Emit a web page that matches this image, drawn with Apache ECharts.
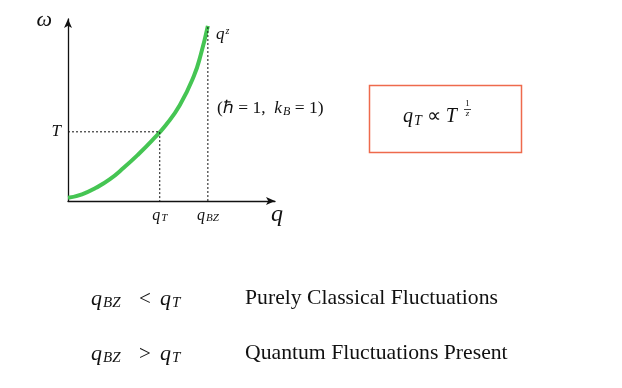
<!DOCTYPE html>
<html>
<head>
<meta charset="utf-8">
<script src="https://cdn.jsdelivr.net/npm/echarts@6/dist/echarts.min.js"></script>
<style>
html, body { margin: 0; background: #fff; }
#chart { width: 622px; height: 388px; }
</style>
</head>
<body>
<div id="chart"></div>
<script>
// dispersion curve omega(q)
var curveQ = [0, 0.1, 0.2, 0.3, 0.4, 0.5, 0.6, 0.7, 0.8, 0.9, 0.95, 1.0];
var curveW = [0.018, 0.038, 0.075, 0.124, 0.19, 0.263, 0.343, 0.432, 0.545, 0.71, 0.834, 0.995];
var qT = 0.656, qBZ = 1.0, tempT = 0.393, wBZ = 1.0;
var xTicks = [qT, qBZ];
var xTickLabels = ['{i|q}{s|T}', '{i|q}{s|BZ}'];
var yTicks = [tempT];
var yTickLabels = ['{i|T}'];
var rowSign = ['<', '>'];
var rowText = ['Purely Classical Fluctuations', 'Quantum Fluctuations Present'];

var serif = 'Liberation Serif';
var ink = '#111';

function st(size, italic, extra) {
    var o = { fontFamily: serif, fontSize: size, fontStyle: italic ? 'italic' : 'normal', color: ink, fill: ink };
    for (var k in extra || {}) o[k] = extra[k];
    return o;
}
function rich(size, subSize) {
    subSize = subSize || Math.round(size * 0.7);
    return {
        i: st(size, true),
        r: st(size, false),
        s: st(subSize, true, { padding: [Math.round(size * 0.4), 0, 0, 1] }),
        sup: st(Math.round(size * 0.6), true, { padding: [0, 0, Math.round(size * 0.45), 1] })
    };
}
function nearest(arr, v) {
    var best = 0;
    for (var i = 1; i < arr.length; i++) if (Math.abs(arr[i] - v) < Math.abs(arr[best] - v)) best = i;
    return best;
}

var chart = echarts.init(document.getElementById('chart'));

var graphic = [
    { type: 'text', x: 216, y: 35, style: { text: '{i|q}{sup|z}', rich: rich(17), verticalAlign: 'middle' } },
    { type: 'text', x: 217, y: 108, style: { text: '{r|(ℏ = 1,  }{i|k}{s|B}{r| = 1)}', rich: rich(17.5), verticalAlign: 'middle' } },
    { type: 'rect', shape: { x: 369.5, y: 85.5, width: 152, height: 67 },
      style: { fill: '#fff', stroke: '#ee6a4c', lineWidth: 1.5 }, z: 1 },
    { type: 'text', x: 403, y: 117, style: { text: '{i|q}{s|T}{r| ∝ }{i|T}', rich: rich(20), verticalAlign: 'middle' }, z: 2 },
    { type: 'text', x: 467.5, y: 104, style: { text: '1', font: '9px ' + serif, fill: ink, align: 'center', verticalAlign: 'middle' }, z: 2 },
    { type: 'line', shape: { x1: 464, y1: 109.5, x2: 471, y2: 109.5 }, style: { stroke: ink, lineWidth: 0.8 }, z: 2 },
    { type: 'text', x: 467.5, y: 114, style: { text: 'z', font: 'italic 9px ' + serif, fill: ink, align: 'center', verticalAlign: 'middle' }, z: 2 }
];
var rowY = [298, 353];
for (var r = 0; r < rowText.length; r++) {
    graphic.push({ type: 'text', x: 91, y: rowY[r] + 1, style: { text: '{i|q}{s|BZ}', rich: rich(22, 15), verticalAlign: 'middle' } });
    graphic.push({ type: 'text', x: 145, y: rowY[r] + 1, style: { text: rowSign[r], font: '21px ' + serif, fill: ink, align: 'center', verticalAlign: 'middle' } });
    graphic.push({ type: 'text', x: 160, y: rowY[r] + 1, style: { text: '{i|q}{s|T}', rich: rich(22, 15), verticalAlign: 'middle' } });
    graphic.push({ type: 'text', x: 245, y: rowY[r], style: { text: rowText[r], font: '21.7px ' + serif, fill: ink, verticalAlign: 'middle' } });
}

var dashed = { color: ink, width: 1, type: [2, 2] };

chart.setOption({
    animation: false,
    backgroundColor: '#fff',
    grid: { left: 68, right: 347, top: 19, bottom: 187, outerBoundsMode: 'none' },
    xAxis: {
        type: 'value', min: 0, max: 1.48,
        splitLine: { show: false }, axisTick: { show: false },
        axisLine: { symbol: ['none', 'arrow'], symbolSize: [6, 9], lineStyle: { color: ink, width: 1.3 } },
        axisLabel: {
            customValues: xTicks, margin: 6, rich: rich(16, 11),
            formatter: function (v) { return xTickLabels[nearest(xTicks, v)]; }
        },
        name: 'q', nameLocation: 'end', nameGap: 2,
        nameTextStyle: { fontFamily: serif, fontStyle: 'italic', fontSize: 24, color: ink, align: 'center', verticalAlign: 'top', padding: [2, 0, 0, 0] }
    },
    yAxis: {
        type: 'value', min: 0, max: 1.034,
        splitLine: { show: false }, axisTick: { show: false },
        axisLine: { symbol: ['none', 'arrow'], symbolSize: [6, 9], lineStyle: { color: ink, width: 1.3 } },
        axisLabel: {
            customValues: yTicks, margin: 7, rich: rich(17),
            formatter: function (v) { return yTickLabels[nearest(yTicks, v)]; }
        },
        name: 'ω', nameLocation: 'end', nameGap: -1,
        nameTextStyle: { fontFamily: serif, fontStyle: 'italic', fontSize: 22, color: ink, align: 'right', verticalAlign: 'middle', padding: [0, 16, 0, 0] }
    },
    series: [
        {
            type: 'line', smooth: true, symbol: 'none', z: 3,
            data: curveQ.map(function (q, i) { return [q, curveW[i]]; }),
            lineStyle: { color: '#45c553', width: 4 }
        },
        { type: 'line', symbol: 'none', data: [[0, tempT], [qT, tempT], [qT, 0]], lineStyle: dashed },
        { type: 'line', symbol: 'none', data: [[qBZ, 0], [qBZ, wBZ]], lineStyle: dashed }
    ],
    graphic: graphic
});
</script>
</body>
</html>
